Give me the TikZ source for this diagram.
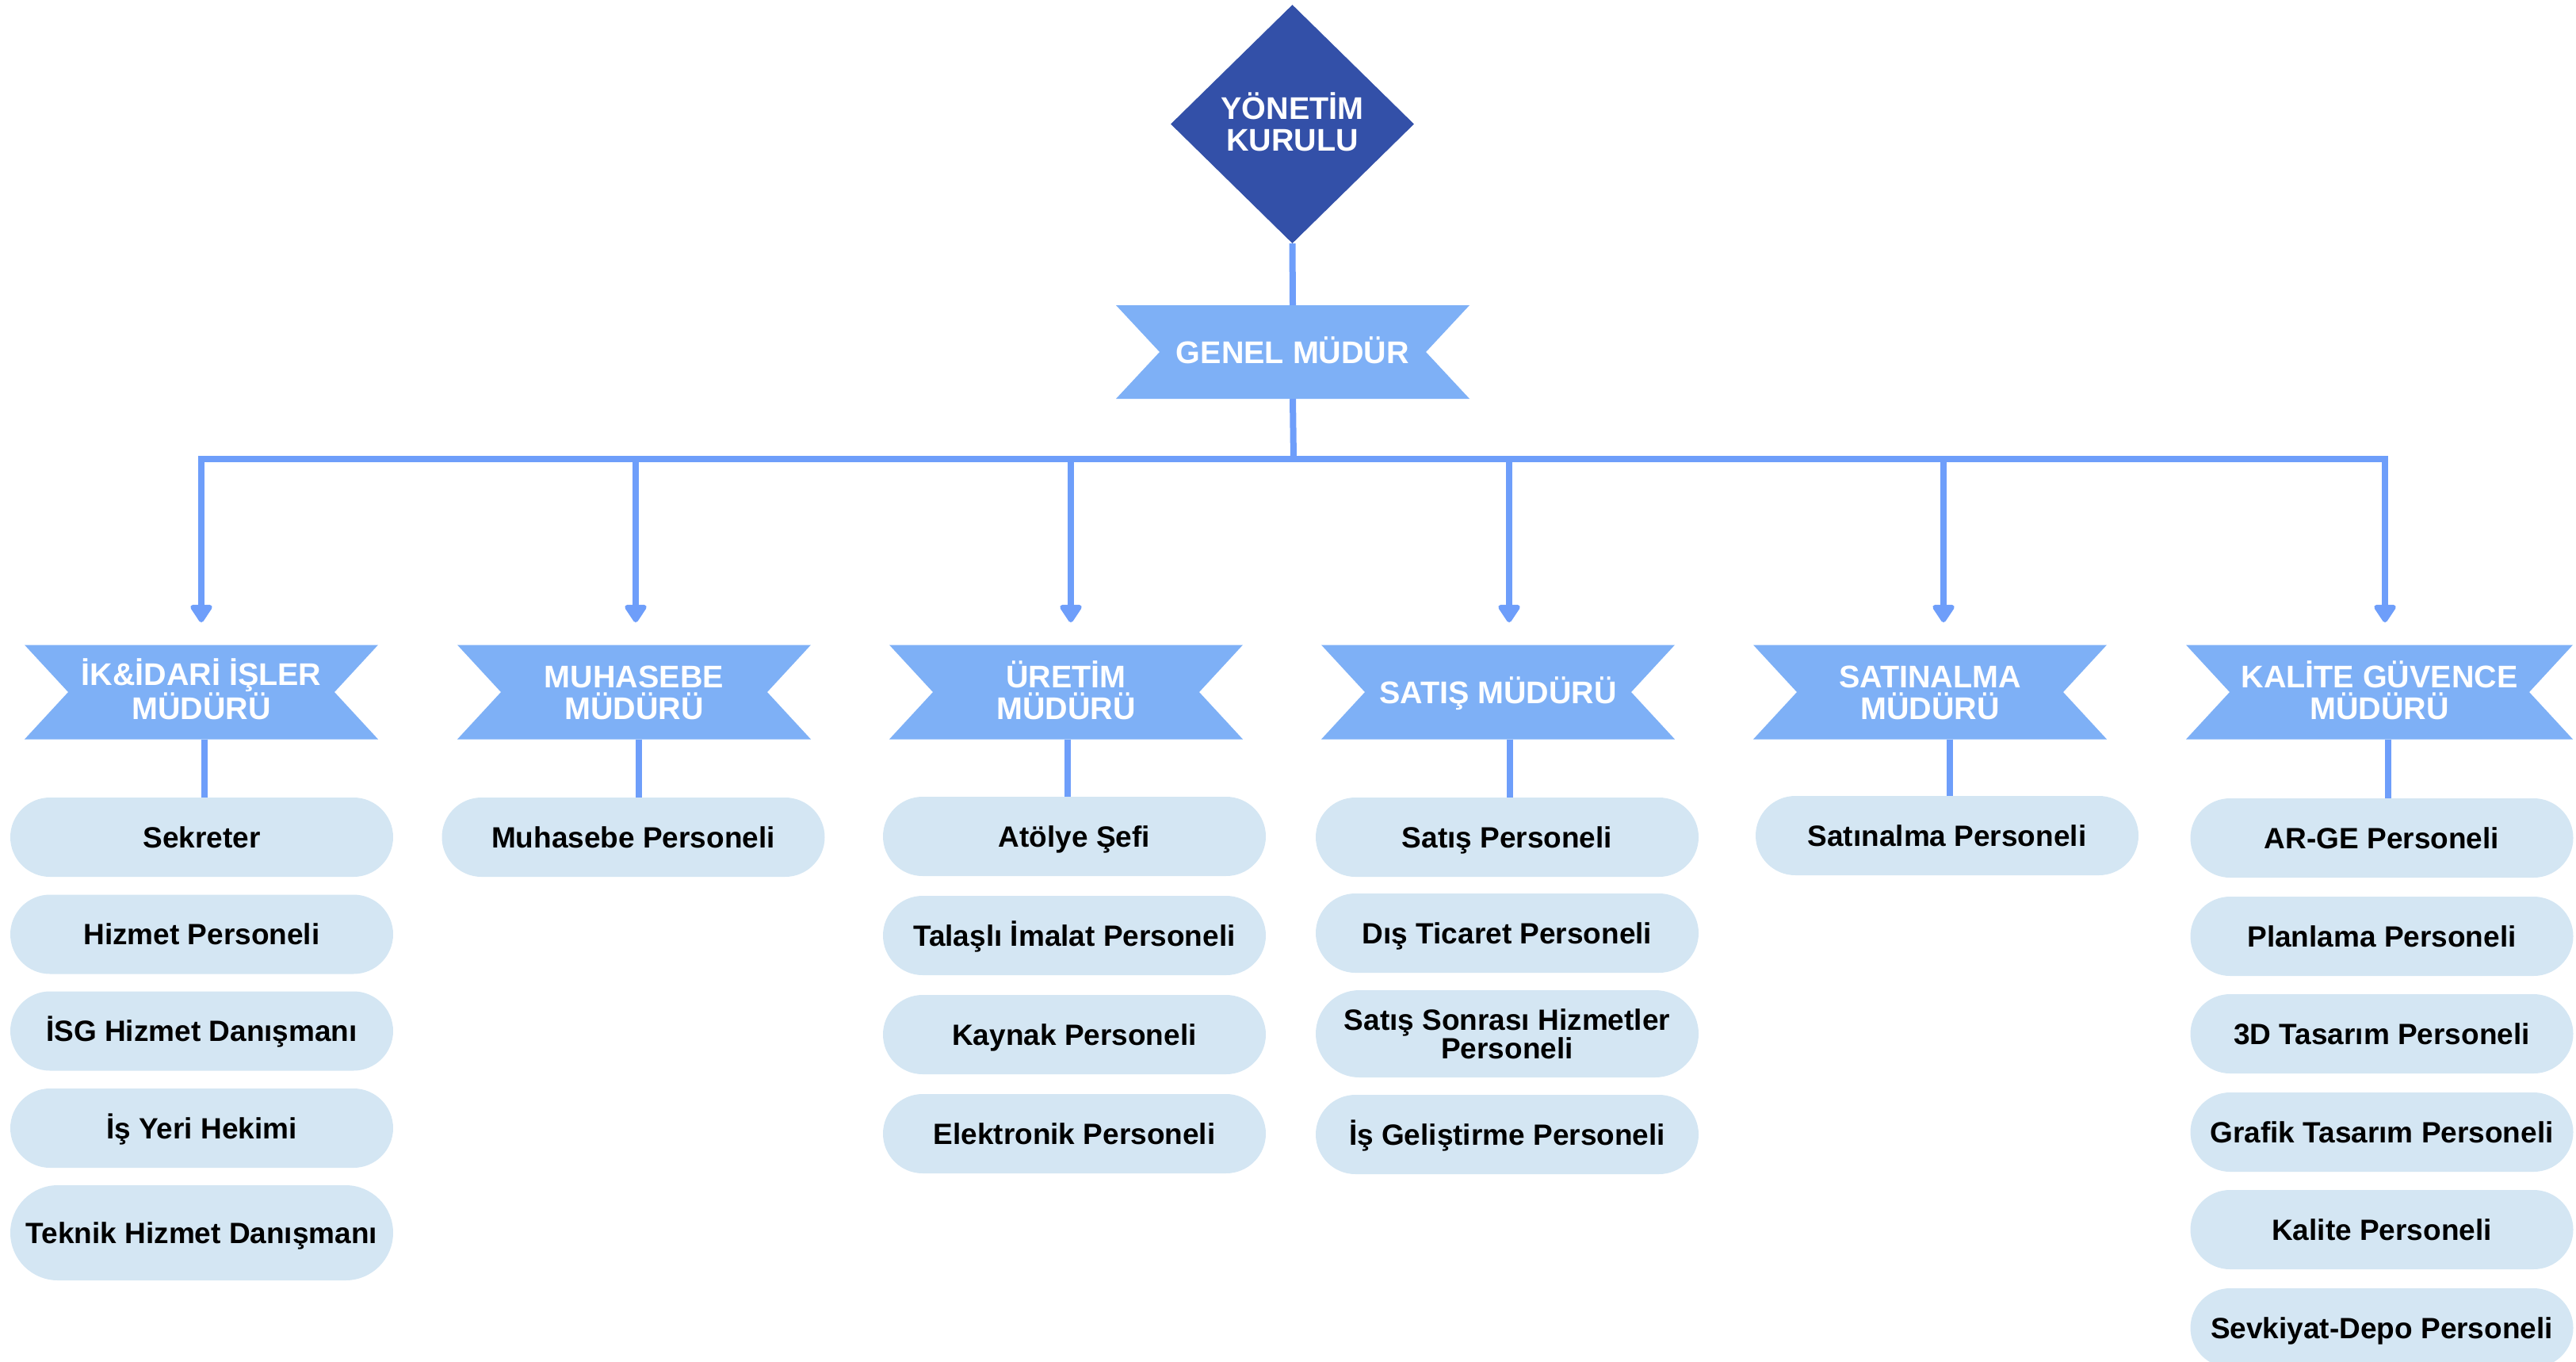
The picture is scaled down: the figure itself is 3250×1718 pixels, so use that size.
\documentclass[tikz,border=0pt]{standalone}
\usepackage{fontspec}
\setmainfont{Liberation Sans}
\usetikzlibrary{shapes.geometric,arrows.meta}
\definecolor{diacol}{HTML}{3350A8}
\definecolor{bancol}{HTML}{7EB0F6}
\definecolor{lincol}{HTML}{6E9EFA}
\definecolor{pilcol}{HTML}{D4E6F3}
\begin{document}
\begin{tikzpicture}[x=1pt,y=-1pt,
  bigfont/.style={font=\bfseries\fontsize{39.5pt}{40pt}\selectfont, text=white, align=center},
  bone/.style={text height=28.3pt, text depth=0pt},
  btwo/.style={text height=68.3pt, text depth=0pt},
  banner/.style={bigfont, rectangle, inner sep=0pt, minimum width=446pt, minimum height=119pt,
    path picture={\fill[bancol] (path picture bounding box.north west) -- (path picture bounding box.north east)
      -- ([xshift=-55pt]path picture bounding box.east) -- (path picture bounding box.south east)
      -- (path picture bounding box.south west) -- ([xshift=55pt]path picture bounding box.west) -- cycle;}},
  pill/.style={rectangle, rounded corners=50pt, fill=pilcol, inner sep=0pt, minimum width=483pt, minimum height=100pt,
    font=\bfseries\fontsize{37pt}{36pt}\selectfont, align=center, text height=26.5pt, text depth=0pt},
  ptwo/.style={text height=62.5pt, text depth=0pt},
  conn/.style={draw=lincol, line width=8pt},
  arr/.style={conn, -{Triangle[width=31pt,length=25pt,round]}}
]
\useasboundingbox (0,0) rectangle (3250,1718);
\clip (0,0) rectangle (3250,1718);

% top
\node[diamond, aspect=1, fill=diacol, inner sep=0pt, minimum width=307pt, minimum height=301pt, bigfont, btwo] (yk) at (1630.5,156.5) {YÖNETİM\\KURULU};
\node[banner, bone, minimum height=118pt] (gm) at (1631,444) {GENEL MÜDÜR};

% managers
\node[banner, btwo] (m1) at (254,873) {İK\&İDARİ İŞLER\\MÜDÜRÜ};
\node[banner, btwo] (m2) at (800,873) {MUHASEBE\\MÜDÜRÜ};
\node[banner, btwo] (m3) at (1345,873) {ÜRETİM\\MÜDÜRÜ};
\node[banner, bone] (m4) at (1890,873) {SATIŞ MÜDÜRÜ};
\node[banner, btwo] (m5) at (2435,873) {SATINALMA\\MÜDÜRÜ};
\node[banner, btwo, minimum width=488pt] (m6) at (3002,873) {KALİTE GÜVENCE\\MÜDÜRÜ};

% column 1
\node[pill] (p11) at (254.5,1056) {Sekreter};
\node[pill] (p12) at (254.5,1178.5) {Hizmet Personeli};
\node[pill] (p13) at (254.5,1300.5) {İSG Hizmet Danışmanı};
\node[pill] (p14) at (254.5,1423) {İş Yeri Hekimi};
\node[pill, minimum height=120pt, rounded corners=60pt] (p15) at (254.5,1555) {Teknik Hizmet Danışmanı};
% column 2
\node[pill] (p21) at (799,1056) {Muhasebe Personeli};
% column 3
\node[pill] (p31) at (1355.5,1055) {Atölye Şefi};
\node[pill] (p32) at (1355.5,1180) {Talaşlı İmalat Personeli};
\node[pill] (p33) at (1355.5,1305) {Kaynak Personeli};
\node[pill] (p34) at (1355.5,1430) {Elektronik Personeli};
% column 4
\node[pill] (p41) at (1901.5,1056) {Satış Personeli};
\node[pill] (p42) at (1901.5,1177) {Dış Ticaret Personeli};
\node[pill, ptwo, minimum height=110pt, rounded corners=55pt] (p43) at (1901.5,1304) {Satış Sonrası Hizmetler\\Personeli};
\node[pill] (p44) at (1901.5,1431) {İş Geliştirme Personeli};
% column 5
\node[pill] (p51) at (2456.5,1054) {Satınalma Personeli};
% column 6
\node[pill] (p61) at (3005,1057) {AR-GE Personeli};
\node[pill] (p62) at (3005,1181) {Planlama Personeli};
\node[pill] (p63) at (3005,1304) {3D Tasarım Personeli};
\node[pill] (p64) at (3005,1428) {Grafik Tasarım Personeli};
\node[pill] (p65) at (3005,1551) {Kalite Personeli};
\node[pill] (p66) at (3005,1675) {Sevkiyat-Depo Personeli};

% connectors
\coordinate (bus) at (1632,579);
\coordinate (t1) at (254,785);
\coordinate (t2) at (802,785);
\coordinate (t3) at (1351,785);
\coordinate (t4) at (1904,785);
\coordinate (t5) at (2452,785);
\coordinate (t6) at (3009,785);
\draw[conn] (yk.south) -- (gm.north);
\draw[conn] (gm.south) -- (bus);
\draw[arr] (bus) -| (t1);
\draw[arr] (bus) -| (t6);
\draw[arr] (t2|-bus) -- (t2);
\draw[arr] (t3|-bus) -- (t3);
\draw[arr] (t4|-bus) -- (t4);
\draw[arr] (t5|-bus) -- (t5);

\coordinate (c1) at (258,0);
\coordinate (c2) at (806,0);
\coordinate (c3) at (1347,0);
\coordinate (c4) at (1905,0);
\coordinate (c5) at (2460,0);
\coordinate (c6) at (3013,0);
\draw[conn] (m1.south-|c1) -- (p11.north-|c1);
\draw[conn] (m2.south-|c2) -- (p21.north-|c2);
\draw[conn] (m3.south-|c3) -- (p31.north-|c3);
\draw[conn] (m4.south-|c4) -- (p41.north-|c4);
\draw[conn] (m5.south-|c5) -- (p51.north-|c5);
\draw[conn] (m6.south-|c6) -- (p61.north-|c6);
\end{tikzpicture}
\end{document}
